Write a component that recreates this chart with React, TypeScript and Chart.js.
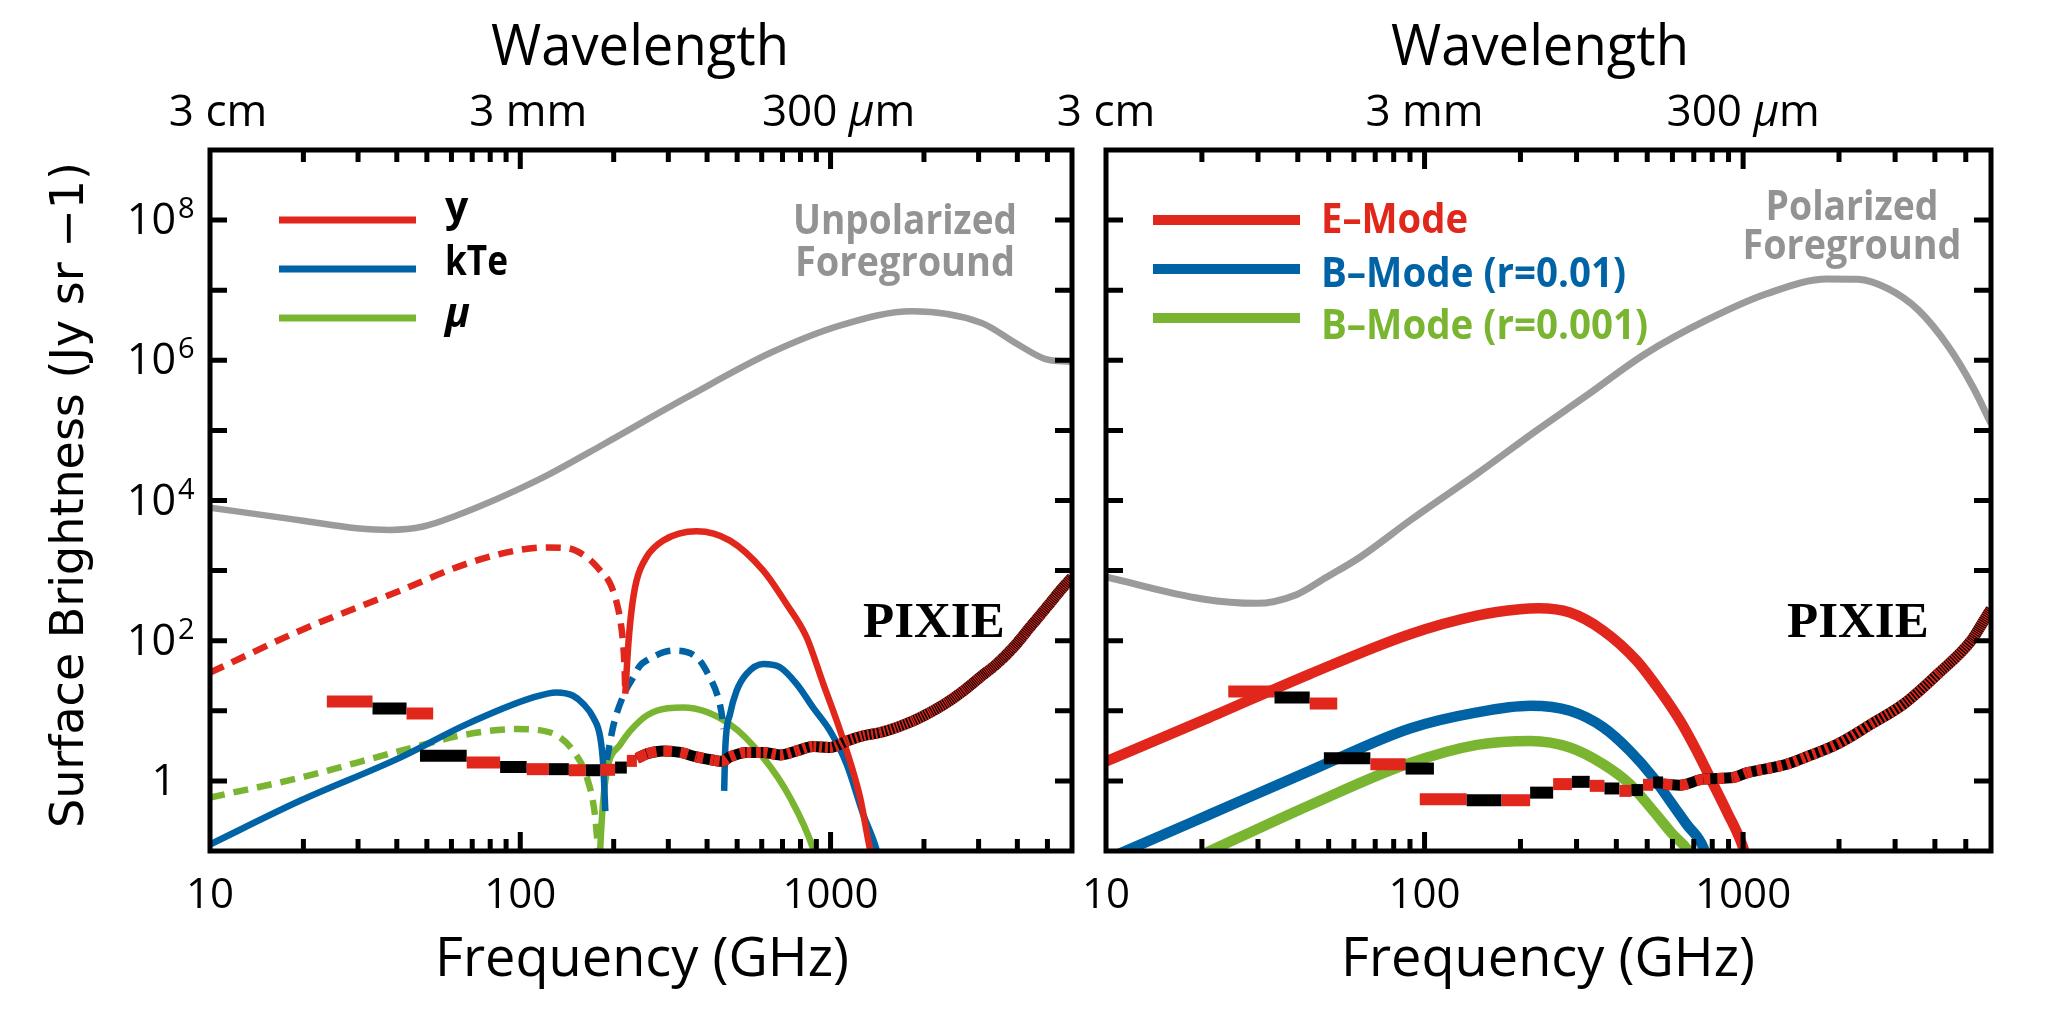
import { useEffect, useRef } from "react"
import { Chart, registerables } from "chart.js"

Chart.register(...registerables)

// colours used in the figure
const RED = "#e1261c"
const BLUE = "#0063a5"
const GREEN = "#7ab532"
const GRAY = "#9b9b9b"
const TEXT_GRAY = "#939393"
const BLACK = "#000000"

const SANS = '"Open Sans", "DejaVu Sans", sans-serif'
const VERA = '"DejaVu Sans", sans-serif'
const SERIF = '"Liberation Serif", "DejaVu Serif", serif'

// ---------------- left panel (unpolarized) ----------------
const unpolFgFreq = [10, 18.1, 23.2, 29.7, 38, 48.7, 62.3, 79.8, 102, 122, 185, 346, 646, 1090, 1830, 3070, 4000, 4900, 6000]
const unpolFgVal = [7.9e3, 5.47e3, 4.65e3, 4.03e3, 3.81e3, 4.25e3, 6.1e3, 9.5e3, 1.55e4, 2.28e4, 6.3e4, 3e5, 1.3e6, 3.2e6, 5e6, 3.4e6, 1.7e6, 1.05e6, 9.5e5]

// y distortion: negative part (dashed) and positive part (solid)
const yNegFreq = [10, 19.5, 41, 67, 97.5, 122, 141, 166, 181, 195, 205, 211, 215, 217, 218]
const yNegVal = [35, 139, 517, 1250, 1940, 2140, 2100, 1480, 1000, 647, 334, 174, 80, 37, 17.5]
const yPosFreq = [218, 223, 229, 237, 255, 289, 370, 474, 607, 721, 837, 948, 1047, 1127, 1245, 1340, 1400]
const yPosVal = [17.5, 90, 300, 720, 1550, 2680, 3640, 2680, 1000, 334, 112, 24, 7.2, 2.7, 0.58, 0.106, 0.05]

// kTe (relativistic) distortion
const kTePos1Freq = [10, 19.5, 41, 67, 110, 131, 148, 160, 172, 181, 185, 188]
const kTePos1Val = [0.124, 0.52, 2.15, 6.4, 15.5, 18.3, 16.4, 12.4, 8.0, 4.2, 1.73, 0.37]
const kTeNegFreq = [190, 200, 216, 231, 243, 255, 311, 370, 408, 434, 446, 452]
const kTeNegVal = [2.0, 6.4, 17.4, 29.8, 44, 52, 72, 58, 30, 15.5, 8.9, 5.5]
const kTePos2Freq = [454, 458, 474, 498, 536, 607, 687, 778, 880, 995, 1127, 1275, 1405, 1500]
const kTePos2Val = [0.72, 3, 8.9, 19.3, 33.6, 46.5, 41.7, 24, 11, 5.2, 1.73, 0.33, 0.106, 0.03]

// mu distortion
const muNegFreq = [10, 19.5, 41, 67, 97.5, 125, 148, 164, 174, 178, 180]
const muNegVal = [0.58, 1.11, 2.68, 4.6, 5.5, 4.9, 2.7, 1.11, 0.33, 0.106, 0.05]
const muPosFreq = [180, 181, 188, 210, 243, 275, 335, 474, 607, 740, 880, 920]
const muPosVal = [0.05, 0.106, 1.0, 3.3, 7.2, 10, 11.1, 6.4, 2.15, 0.58, 0.106, 0.05]

// PIXIE sensitivity, left panel: channel edges + values, then the dense tail
const pixieLowEdgesL = [23.8, 33.4, 43.0, 52.4]
const pixieLowValL = [13.6, 10.8, 9.15]
const pixieEdgesL = [47.5, 67.2, 86.1, 104.9, 123.7, 143.4, 162.6, 181.2, 202.1, 220.5, 237.6]
const pixieValL = [2.28, 1.83, 1.58, 1.47, 1.47, 1.42, 1.42, 1.44, 1.55, 1.93]
const pixieTailFreqL = [237.6, 256, 289, 328, 370, 420, 446, 474, 536, 607, 687, 778, 880, 995, 1127, 1275, 1445, 1635, 1850, 2095, 2370, 2680, 3030, 3430, 3880, 4390, 4970, 5620, 6000]
const pixieTailValL = [2.1, 2.43, 2.68, 2.55, 2.2, 1.97, 1.9, 2.2, 2.55, 2.55, 2.35, 2.68, 3.1, 3.0, 3.7, 4.4, 4.9, 5.8, 7.2, 9.5, 13.1, 19.3, 30, 46.5, 80, 155, 300, 580, 800]
const pixieChanL = 19.3

// ---------------- right panel (polarized) ----------------
const polFgFreq = [10, 20.1, 29.6, 39.6, 49.2, 62.7, 90, 114, 146, 225, 318, 494, 764, 1186, 1838, 2290, 2850, 3550, 4420, 5260, 6000]
const polFgVal = [810, 394, 341, 454, 803, 1550, 5180, 1.1e4, 2.4e4, 1e5, 3e5, 1.24e6, 3.7e6, 8.9e6, 1.45e7, 1.43e7, 1.05e7, 5.2e6, 1.55e6, 4.2e5, 1.26e5]

const eModeFreq = [10, 21.1, 43.6, 90, 146, 199, 228, 286, 364, 463, 548, 634, 715, 806, 888, 1000, 1050]
const eModeVal = [1.89, 8.0, 33.4, 124, 228, 281, 290, 252, 139, 52, 19.3, 7.2, 2.68, 0.9, 0.37, 0.112, 0.05]
const bMode01Freq = [10, 11.4, 21.1, 43.6, 90, 146, 215, 286, 364, 441, 523, 589, 665, 750, 790]
const bMode01Val = [0.076, 0.098, 0.33, 1.39, 5.6, 9.5, 11.8, 10, 5.8, 2.68, 1.11, 0.52, 0.24, 0.112, 0.05]
const bMode001Freq = [18.5, 20.7, 43.6, 87.8, 146, 215, 286, 364, 441, 523, 603, 673, 720]
const bMode001Val = [0.075, 0.095, 0.45, 1.73, 3.27, 3.72, 3.0, 1.73, 0.9, 0.37, 0.17, 0.1, 0.05]

const pixieLowEdgesR = [24.2, 33.8, 43.6, 53.2]
const pixieLowValR = [18.9, 15.5, 12.7]
const pixieEdgesR = [48.3, 67.6, 87.2, 107.0]
const pixieValR = [2.11, 1.73, 1.5]
const pixieHiEdgesR = [96.6, 135.6, 174.5, 214.5, 253.3, 290, 330, 367, 409, 446, 485, 522, 561]
const pixieHiValR = [0.547, 0.53, 0.53, 0.68, 0.9, 0.97, 0.85, 0.78, 0.72, 0.74, 0.88, 0.95]
const pixieTailFreqR = [561, 633, 750, 931, 1026, 1370, 1580, 1990, 2530, 3200, 4100, 5200, 5900, 6000]
const pixieTailValR = [0.9, 0.87, 1.06, 1.12, 1.3, 1.73, 2.2, 3.4, 6.5, 12.6, 34, 100, 250, 280]
const pixieChanR = 39

// axis labels
const freqTickVals = [10, 100, 1000]
const freqTickLabels = ["10", "100", "1000"]
const waveTickLabels = ["3 cm", "3 mm", "300 μm"]
const yLabelExps = [8, 6, 4, 2, 0]

// ---------------- helpers ----------------
const pts = (fs: number[], vs: number[]) => fs.map((x, i) => ({ x, y: vs[i] }))

const curve = (fs: number[], vs: number[], color: string, width: number, dash: number[] = []) => ({
  data: pts(fs, vs),
  borderColor: color,
  borderWidth: width,
  borderDash: dash,
  pointRadius: 0,
  cubicInterpolationMode: "monotone" as const,
  fill: false,
  clip: 0,
})

// one horizontal bar per channel, alternately red and black
const channels = (edges: number[], vals: number[], firstRed: boolean, width: number) => {
  const data: { x: number; y: number | null }[] = []
  vals.forEach((v, i) => {
    data.push({ x: edges[i], y: v }, { x: edges[i + 1], y: v }, { x: edges[i + 1], y: null })
  })
  return {
    data,
    borderWidth: width,
    borderColor: BLACK,
    pointRadius: 0,
    spanGaps: false,
    clip: 0,
    segment: {
      borderColor: (ctx: any) => ((Math.floor(ctx.p0DataIndex / 3) + (firstRed ? 0 : 1)) % 2 === 0 ? RED : BLACK),
    },
  }
}

// dense channels: black line with red dashes one channel wide
const tail = (fs: number[], vs: number[], chan: number, width: number) => [
  {
    data: pts(fs, vs),
    borderColor: RED,
    borderWidth: width,
    pointRadius: 0,
    clip: 0,
    cubicInterpolationMode: "monotone" as const,
    segment: {
      borderDash: (ctx: any) => {
        const xs = ctx.chart.scales.x
        const f = ctx.p0.parsed ? ctx.p0.parsed.x : xs.getValueForPixel(ctx.p0.x)
        const w = Math.max(1, xs.getPixelForValue(f + chan) - xs.getPixelForValue(f))
        return [w, w]
      },
    },
  },
  {
    data: pts(fs, vs),
    borderColor: BLACK,
    borderWidth: width,
    pointRadius: 0,
    clip: 0,
    cubicInterpolationMode: "monotone" as const,
  },
]

type Run = { text: string; font: string }

function drawRuns(
  ctx: CanvasRenderingContext2D,
  runs: Run[],
  x: number,
  y: number,
  align: "left" | "center" | "right",
  color: string,
  width?: number,
) {
  ctx.save()
  ctx.fillStyle = color
  ctx.textBaseline = "alphabetic"
  ctx.textAlign = "left"
  let natural = 0
  for (const r of runs) {
    ctx.font = r.font
    natural += ctx.measureText(r.text).width
  }
  const sq = width ? width / natural : 1
  const total = natural * sq
  const x0 = align === "left" ? x : align === "center" ? x - total / 2 : x - total
  ctx.translate(x0, y)
  ctx.scale(sq, 1)
  let cx = 0
  for (const r of runs) {
    ctx.font = r.font
    ctx.fillText(r.text, cx, 0)
    cx += ctx.measureText(r.text).width
  }
  ctx.restore()
}

// splits "300 μm" so the mu is italic
const muRuns = (s: string, font: string, italicFont: string): Run[] => {
  const parts = s.split("μ")
  const out: Run[] = []
  parts.forEach((p, i) => {
    if (i > 0) out.push({ text: "μ", font: italicFont })
    if (p) out.push({ text: p, font })
  })
  return out
}

type LegendItem = { runs: Run[]; textColor: string; lineColor: string; lineY: number; baseline: number; width?: number }

type PanelSpec = {
  pad: { left: number; right: number; top: number; bottom: number }
  yLabels: boolean
  waveX: number
  waveShift: number
  freqX: number
  legendLine: [number, number]
  legendTextX: number
  legendWidth: number
  legend: LegendItem[]
  fg: { text: string; y: number; width: number }[]
  fgX: number
  pixieX: number
}

const BOLD = `bold 41px ${SANS}`

const leftSpec: PanelSpec = {
  pad: { left: 210, right: 2048 - 1072, top: 150, bottom: 1009 - 851 },
  yLabels: true,
  waveX: 640,
  waveShift: 8,
  freqX: 642,
  legendLine: [279, 416],
  legendTextX: 445,
  legendWidth: 7,
  legend: [
    { runs: [{ text: "y", font: BOLD }], textColor: BLACK, lineColor: RED, lineY: 220, baseline: 221 },
    { runs: [{ text: "kTe", font: BOLD }], textColor: BLACK, lineColor: BLUE, lineY: 269, baseline: 275, width: 63 },
    { runs: [{ text: "μ", font: `italic bold 41px ${SANS}` }], textColor: BLACK, lineColor: GREEN, lineY: 318, baseline: 327 },
  ],
  fg: [
    { text: "Unpolarized", y: 234, width: 224 },
    { text: "Foreground", y: 276, width: 220 },
  ],
  fgX: 905,
  pixieX: 863,
}

const rightSpec: PanelSpec = {
  pad: { left: 1106, right: 2048 - 1991, top: 150, bottom: 1009 - 851 },
  yLabels: false,
  waveX: 1540,
  waveShift: 0,
  freqX: 1548,
  legendLine: [1153, 1300],
  legendTextX: 1321,
  legendWidth: 10,
  legend: [
    { runs: [{ text: "E–Mode", font: BOLD }], textColor: RED, lineColor: RED, lineY: 220, baseline: 233, width: 147 },
    { runs: [{ text: "B–Mode (r=0.01)", font: BOLD }], textColor: BLUE, lineColor: BLUE, lineY: 269, baseline: 287, width: 305 },
    { runs: [{ text: "B–Mode (r=0.001)", font: BOLD }], textColor: GREEN, lineColor: GREEN, lineY: 318, baseline: 339, width: 327 },
  ],
  fg: [
    { text: "Polarized", y: 220, width: 173 },
    { text: "Foreground", y: 259, width: 219 },
  ],
  fgX: 1852,
  pixieX: 1787,
}

// frame, inward ticks and all the text of one panel
const decor = (p: PanelSpec) => ({
  id: "decor",
  afterDraw(chart: Chart) {
    const ctx = chart.ctx
    const { left, right, top, bottom } = chart.chartArea
    const xs = chart.scales.x
    const ys = chart.scales.y

    ctx.save()
    ctx.strokeStyle = BLACK
    ctx.lineWidth = 5
    ctx.lineCap = "butt"
    ctx.beginPath()
    for (const dec of [10, 100, 1000]) {
      for (let m = 2; m <= 10; m++) {
        const v = dec * m
        if (v >= 6000) continue
        const px = xs.getPixelForValue(v)
        const len = m === 10 ? 19 : 12
        ctx.moveTo(px, bottom)
        ctx.lineTo(px, bottom - len)
        ctx.moveTo(px, top)
        ctx.lineTo(px, top + len)
      }
    }
    for (let e = 0; e <= 8; e++) {
      const py = ys.getPixelForValue(10 ** e)
      ctx.moveTo(left, py)
      ctx.lineTo(left + 17, py)
      ctx.moveTo(right, py)
      ctx.lineTo(right - 17, py)
    }
    ctx.stroke()
    ctx.lineJoin = "miter"
    ctx.strokeRect(left, top, right - left, bottom - top)

    // bottom tick labels and title
    freqTickVals.forEach((v, i) => {
      drawRuns(ctx, [{ text: freqTickLabels[i], font: `42px ${SANS}` }], xs.getPixelForValue(v), 908, "center", BLACK)
    })
    drawRuns(ctx, [{ text: "Frequency (GHz)", font: `54px ${SANS}` }], p.freqX, 976, "center", BLACK, 414)

    // top (wavelength) labels and title
    freqTickVals.forEach((v, i) => {
      drawRuns(
        ctx,
        muRuns(waveTickLabels[i], `44px ${SANS}`, `italic 44px ${SANS}`),
        xs.getPixelForValue(v) + p.waveShift,
        126,
        "center",
        BLACK,
      )
    })
    drawRuns(ctx, [{ text: "Wavelength", font: `56px ${SANS}` }], p.waveX, 65, "center", BLACK, 298)

    if (p.yLabels) {
      for (const e of yLabelExps) {
        const py = ys.getPixelForValue(10 ** e)
        if (e === 0) {
          drawRuns(ctx, [{ text: "1", font: `43px ${SANS}` }], 176, py + 14, "right", BLACK)
        } else {
          drawRuns(ctx, [{ text: "10", font: `43px ${SANS}` }], 176, py + 14, "right", BLACK)
          drawRuns(ctx, [{ text: String(e), font: `29px ${SANS}` }], 178, py - 2, "left", BLACK)
        }
      }
      ctx.save()
      ctx.translate(83, 495)
      ctx.rotate(-Math.PI / 2)
      drawRuns(ctx, [{ text: "Surface Brightness (Jy sr −1)", font: `46px ${VERA}` }], 0, 0, "center", BLACK)
      ctx.restore()
    }

    // legend
    ctx.lineWidth = p.legendWidth
    for (const item of p.legend) {
      ctx.strokeStyle = item.lineColor
      ctx.beginPath()
      ctx.moveTo(p.legendLine[0], item.lineY)
      ctx.lineTo(p.legendLine[1], item.lineY)
      ctx.stroke()
      drawRuns(ctx, item.runs, p.legendTextX, item.baseline, "left", item.textColor, item.width)
    }

    for (const line of p.fg) {
      drawRuns(ctx, [{ text: line.text, font: BOLD }], p.fgX, line.y, "center", TEXT_GRAY, line.width)
    }
    drawRuns(ctx, [{ text: "PIXIE", font: `bold 51px ${SERIF}` }], p.pixieX, 637, "left", BLACK)
    ctx.restore()
  },
})

const leftDatasets = () => [
  ...tail(pixieTailFreqL, pixieTailValL, pixieChanL, 11),
  channels(pixieEdgesL, pixieValL, false, 12),
  channels(pixieLowEdgesL, pixieLowValL, true, 12),
  curve(yPosFreq, yPosVal, RED, 6.5),
  curve(yNegFreq, yNegVal, RED, 6.5, [15, 9]),
  curve(kTePos2Freq, kTePos2Val, BLUE, 6.5),
  curve(kTeNegFreq, kTeNegVal, BLUE, 6.5, [15, 9]),
  curve(kTePos1Freq, kTePos1Val, BLUE, 6.5),
  curve(muPosFreq, muPosVal, GREEN, 6.5),
  curve(muNegFreq, muNegVal, GREEN, 6.5, [15, 9]),
  curve(unpolFgFreq, unpolFgVal, GRAY, 6.5),
]

const rightDatasets = () => [
  ...tail(pixieTailFreqR, pixieTailValR, pixieChanR, 11),
  channels(pixieHiEdgesR, pixieHiValR, true, 12),
  channels(pixieEdgesR, pixieValR, false, 12),
  channels(pixieLowEdgesR, pixieLowValR, true, 12),
  curve(eModeFreq, eModeVal, RED, 10.5),
  curve(bMode01Freq, bMode01Val, BLUE, 10.5),
  curve(bMode001Freq, bMode001Val, GREEN, 10.5),
  curve(polFgFreq, polFgVal, GRAY, 7),
]

function makeChart(canvas: HTMLCanvasElement, datasets: any[], spec: PanelSpec) {
  return new Chart(canvas, {
    type: "line",
    data: { datasets },
    options: {
      responsive: false,
      animation: false,
      events: [],
      layout: { autoPadding: false, padding: spec.pad },
      scales: {
        x: { type: "logarithmic", min: 10, max: 6000, display: false },
        y: { type: "logarithmic", min: 0.1, max: 1e9, display: false },
      },
      plugins: { legend: { display: false }, tooltip: { enabled: false } },
      elements: { point: { radius: 0 }, line: { borderCapStyle: "butt", borderJoinStyle: "round" } },
    } as any,
    plugins: [decor(spec)],
  })
}

export default function App() {
  const leftRef = useRef<HTMLCanvasElement>(null)
  const rightRef = useRef<HTMLCanvasElement>(null)

  useEffect(() => {
    document.body.style.margin = "0"
    document.body.style.overflow = "hidden"
    const charts: Chart[] = []
    if (leftRef.current) charts.push(makeChart(leftRef.current, leftDatasets(), leftSpec))
    if (rightRef.current) charts.push(makeChart(rightRef.current, rightDatasets(), rightSpec))
    return () => charts.forEach((c) => c.destroy())
  }, [])

  return (
    <div style={{ position: "absolute", left: 0, top: 0, width: 2048, height: 1009, background: "#fff" }}>
      <canvas ref={leftRef} width={2048} height={1009} style={{ position: "absolute", left: 0, top: 0 }} />
      <canvas ref={rightRef} width={2048} height={1009} style={{ position: "absolute", left: 0, top: 0 }} />
    </div>
  )
}
